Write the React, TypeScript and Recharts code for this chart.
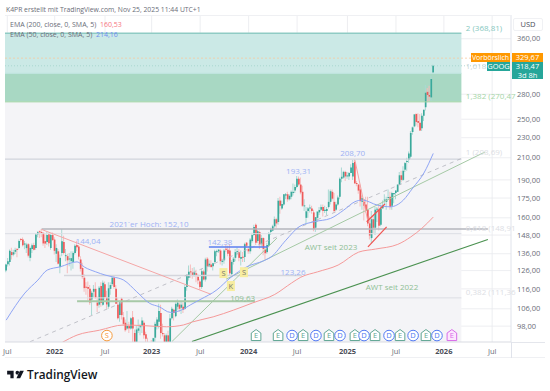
import {
  Bar,
  CartesianGrid,
  Cell,
  ComposedChart,
  Line,
  ReferenceArea,
  ReferenceDot,
  ReferenceLine,
  XAxis,
  YAxis,
} from 'recharts';

// Weekly GOOG candles, week 0 = Jul 5 2021
const opens = [
  126, 129.7, 131, 137, 135.5, 137.2, 138.8, 139.5, 144.8, 145,
  141.8, 139.5, 142, 133.5, 139, 141.5, 139.5, 148.5, 150.5, 149.5,
  149.5, 144, 143.5, 148.5, 139.5, 148, 145, 136, 137.5, 128,
  136.5, 143.5, 134.5, 134.5, 132.5, 131.5, 131, 136.5, 141.5, 140.5,
  132.5, 127.5, 122, 117, 117, 116, 110.5, 114.5, 116, 109,
  108, 117.5, 108, 118.5, 111.5, 107, 116, 118.5, 122, 116,
  108, 103, 111, 102, 99.5, 97, 98, 97, 102, 95,
  86.5, 96, 97.5, 98, 99.5, 94.5, 91, 90, 89.6, 90,
  93, 98, 100, 104, 95, 94, 90.5, 94, 91, 101.5,
  105.5, 102.5, 107, 108, 106.5, 107, 106, 117, 122, 125.5,
  125, 123, 124.5, 122.5, 120, 117, 125.5, 121, 133, 128.5,
  129.5, 128.5, 131, 137, 137.5, 138, 131, 132, 139, 138.5,
  138, 124, 131, 133.5, 137, 137, 133, 134, 134, 143,
  139, 137.5, 144, 148, 155, 144, 150, 142, 146, 138.5,
  137, 141, 150, 151, 154, 159, 157, 173, 167, 170,
  177, 178, 174, 176, 179, 181, 184, 191, 186, 180,
  168.5, 160, 165, 167, 167, 164, 153, 160, 164, 166,
  168, 165, 165, 168, 172, 180, 172, 166, 170, 176,
  191, 192, 197, 193, 193, 196, 193, 206, 187, 186,
  182, 172, 172, 170, 166, 156, 146, 159, 153, 166,
  166, 155, 167, 173, 172, 175, 176, 169, 178, 179,
  180, 186, 194, 190, 199, 206, 208, 211, 236, 242,
  256, 248, 246, 240, 254, 264, 283, 279, 276, 309,
];
const highs = [
  129.9, 133.4, 138.7, 139.7, 138.5, 139.8, 139.4, 145, 146, 146.3,
  144, 142.9, 142.8, 140.5, 142.5, 143, 149.2, 150.5, 151, 152.1,
  149.8, 148.3, 150, 149.5, 148.8, 149.7, 146.5, 142, 139, 135.5,
  152.1, 147.5, 139, 136, 136.5, 137.5, 137.5, 142, 144, 141.5,
  134.5, 130.5, 124, 119.5, 120, 118, 115, 118, 119.5, 112,
  117.5, 119.5, 120.5, 120, 115, 119.5, 119.5, 123.26, 122.8, 118,
  111.5, 110, 111.5, 104.5, 101, 105, 100, 102, 105, 96.5,
  98, 101, 99, 102, 100.5, 95.5, 93, 91, 92, 93,
  100, 102, 108.5, 108, 99, 95, 94.8, 96, 103.5, 107,
  106, 109, 110.5, 109, 109.5, 109, 118, 124, 129, 129.5,
  127.5, 128, 126.5, 124, 121, 127, 126.5, 133.5, 134, 132,
  132, 130.5, 138.5, 138.5, 139, 139, 133, 139, 142, 141,
  142, 132, 134, 139, 140, 139, 138, 137, 143, 143.5,
  140, 146, 149.5, 155, 156, 151.5, 151, 148, 146.5, 139.5,
  143, 150, 153, 155, 161, 160, 175, 176, 173, 178,
  179, 180, 178, 181, 187, 186, 193.31, 193, 192, 185,
  174, 168, 168, 170, 169, 166, 160, 165, 168, 170,
  170, 169, 168, 182, 182, 182, 179, 172, 177, 192,
  201, 198, 198, 197, 197, 204, 208, 208.7, 189, 186.5,
  186, 177, 174, 176, 176, 161, 165, 162, 168, 168,
  170, 170, 173, 178, 176, 182, 180, 180, 179, 181,
  186, 197, 198, 202, 206, 210, 216, 237, 242, 256,
  257, 257, 256, 257, 261, 292, 288, 291, 304, 320,
];
const lows = [
  125, 128.4, 129, 132.5, 134.5, 135.8, 133.8, 138.8, 143.8, 140.5,
  138.8, 136.5, 133.7, 131.5, 136.5, 138, 138.5, 146.5, 146, 146.5,
  141, 139.5, 141.5, 140.5, 138.5, 144, 135.5, 131, 129.5, 124.5,
  134.5, 135.5, 131.5, 124.5, 128.5, 126, 127, 135.5, 137.5, 132.5,
  125.5, 121.5, 114.5, 113, 110, 108, 103, 111.5, 110.8, 104.5,
  106.5, 107, 107.5, 110.5, 106, 106, 113, 117.5, 116, 108.5,
  101, 100, 101, 98, 95.5, 96.5, 95, 96.5, 91, 83.5,
  85.5, 95, 94, 95, 92.5, 91, 88, 87, 85.5, 88.5,
  90.5, 96.5, 97, 92.5, 93.5, 89.5, 89.5, 90, 90.5, 101,
  100.5, 102, 105.5, 104.5, 103.5, 104, 105.5, 115, 120.5, 122,
  121.5, 122.5, 119.5, 118.5, 115.5, 116, 120.5, 120, 125.5, 128,
  128, 126, 130.5, 134.5, 136.5, 129.5, 129, 130, 137, 134.5,
  123.5, 122.5, 129.5, 131.5, 135, 131.5, 129, 131, 131, 139.5,
  136, 136, 143, 147.5, 141.5, 143, 139, 140, 135, 132.5,
  136, 140, 148, 150.5, 153, 153, 155, 163, 166, 169,
  174, 172, 173, 174, 177, 179, 183, 185, 178, 168,
  165, 155, 160, 164, 163, 150.5, 150, 157, 162, 165,
  161, 163.5, 162, 167, 170, 173, 164, 165, 169, 174,
  188, 191, 189, 191, 190, 196, 190, 187, 184.5, 178.5,
  168.5, 166, 158, 164, 154, 145, 142.6, 149, 148, 157,
  151, 154, 167, 170, 166, 174, 166, 166, 171, 174,
  180, 186, 188, 189, 197, 198, 205, 209, 233, 241,
  243, 241, 237, 237, 248, 260, 270, 271, 272, 307,
];
const closes = [
  129.6, 131.4, 137.8, 135.2, 136.9, 138.4, 138.4, 144, 144.7, 141.4,
  141.9, 141.8, 134.8, 139.6, 141.4, 138.4, 148.3, 149.9, 149.9, 149.4,
  142.5, 142.4, 148, 142.6, 148, 144.7, 137.8, 139.6, 130, 133.5,
  143.9, 136.4, 134.6, 132, 132.6, 133.3, 136.5, 141, 140.1, 134.2,
  127, 122.5, 116.4, 116.6, 116, 109, 114, 116, 111.5, 107.5,
  116.6, 108.9, 119.3, 111.7, 108.1, 116.3, 118, 122, 117, 108.5,
  101.5, 109, 103, 99, 96.2, 98, 97, 101.5, 97, 86.5,
  96.5, 97, 97.5, 100.5, 94, 92.5, 89.8, 88.7, 88, 92.8,
  99, 101, 105, 95, 94.5, 90.3, 94, 91, 101.5, 106,
  104, 108.3, 109, 106, 108, 105.5, 117, 123, 125.4, 125,
  123, 125, 123, 120.5, 117, 125.7, 121, 132.5, 128.5, 130,
  128, 130.3, 137.5, 137, 138.5, 131.5, 131.8, 138, 138.5, 136,
  124.5, 131, 133, 137, 137.5, 133.5, 134, 133.5, 142, 141,
  137.5, 145, 148, 153.5, 143, 150.5, 142, 146, 139, 136.3,
  141.5, 149, 152, 154, 159, 156, 172.9, 169, 170.3, 178,
  178, 174, 176.8, 180, 180, 184, 191, 186, 179.5, 169,
  168.5, 164.8, 167, 167.5, 165, 152, 160.5, 164.5, 165.8, 168,
  165, 166, 166.5, 172, 180.5, 174.5, 165, 170, 175.5, 191,
  192.7, 197, 193, 193, 196, 201, 205, 187, 186.5, 181,
  172.5, 175, 169, 165, 156, 147.7, 159, 153, 166, 166,
  154.4, 167, 169, 173, 174, 175, 168, 179, 179, 181,
  186, 194, 190, 198, 205, 207, 214, 235, 241, 255.5,
  247, 246, 237.5, 254, 261, 281.9, 279, 277, 300, 318.47,
];

// EMA readings every few weeks
const ema50Weeks = [0, 10, 17, 22, 29, 38, 42, 48, 53, 57, 63, 70, 77, 82, 88, 94, 99, 104, 113, 120, 129, 138, 142, 150, 157, 165, 174, 181, 187, 191, 199, 206, 213, 218, 224, 229];
const ema50Values = [100.7, 113.8, 120.7, 126.3, 128.2, 131.1, 128, 125.3, 123.5, 122.5, 120.7, 114.5, 108.6, 107, 104.3, 105.4, 108, 110.5, 115.5, 121.8, 128.2, 131.7, 134, 144.6, 153.6, 157.2, 159.6, 165.7, 172.1, 173.4, 169.5, 168.2, 173.4, 183.1, 196, 214.16];
const ema200Weeks = [30, 38, 50, 63, 74, 86, 95, 100, 111, 122, 132, 144, 153, 158, 167, 178, 189, 198, 210, 217, 223, 229];
const ema200Values = [91, 94.1, 96.2, 98.5, 98.2, 97.7, 98.5, 99.9, 102.2, 105.4, 108.8, 113.1, 119.1, 122.3, 125.3, 129.2, 137, 138.9, 141.9, 146.8, 152.7, 160.53];

const priceTicks = [360, 280, 250, 230, 210, 190, 175, 160, 148, 136, 126, 116, 106, 98];
const timeTicks = [0.6, 26, 53, 78, 104, 130, 156, 183, 209, 234.7, 260.6];
const timeLabels = ['Jul', '2022', 'Jul', '2023', 'Jul', '2024', 'Jul', '2025', 'Jul', '2026', 'Jul'];

const earningsWeeks = [134, 145.8, 159.2, 173.1, 187, 197.8, 211.2, 225.1];
const dividendWeeks = [153.3, 166.1, 179, 191.9, 205.3, 218.2, 231];
const nextEarningsWeek = 239;
const splitWeek = 54;

const fibEndWeek = 244.1;

const candles = opens.map((open, i) => ({
  week: i,
  wick: [lows[i], highs[i]],
  body: [Math.min(open, closes[i]), Math.max(open, closes[i])],
  up: closes[i] >= open,
}));
const ema50 = ema50Weeks.map((week, i) => ({ week, value: ema50Values[i] }));
const ema200 = ema200Weeks.map((week, i) => ({ week, value: ema200Values[i] }));

const WEEK_DOMAIN: [number, number] = [-0.64, 270.7];
const PRICE_DOMAIN: [number, number] = [91.2, 400.8];
const FONT = '"Open Sans", Inter, sans-serif';

const UP = '#3aa99b';
const DOWN = '#ef5a5a';
const UP_WICK = '#a9d9d3';
const DOWN_WICK = '#f6bcbc';
const BLUE_TEXT = '#9db2f5';
const GREEN_TEXT = '#8fbf94';

function TimeTick({ x, y, index }: any) {
  const label = timeLabels[index];
  const isYear = label !== 'Jul';
  return (
    <text x={x} y={y + 4} textAnchor="middle" fontSize={7.5} fontFamily={FONT} fontWeight={isYear ? 700 : 400} fill={isYear ? '#4a4d57' : '#6a6d78'}>
      {label}
    </text>
  );
}

function Note({ viewBox, text, fill, anchor = 'middle' }: any) {
  return (
    <text x={viewBox.x} y={viewBox.y} dy={3} textAnchor={anchor} fontSize={8} fontFamily={FONT} fill={fill}>
      {text}
    </text>
  );
}

function note(week: number, price: number, text: string, fill: string, anchor = 'middle') {
  return (
    <ReferenceDot
      key={text}
      x={week}
      y={price}
      r={0}
      stroke="none"
      fill="none"
      label={<Note text={text} fill={fill} anchor={anchor} />}
    />
  );
}

function EventIcon({ cx, cy, letter, color, round, fill = '#fff' }: any) {
  return (
    <g>
      {round ? (
        <circle cx={cx} cy={cy} r={5.3} fill={fill} stroke={color} strokeWidth={1} />
      ) : (
        <path
          d={`M${cx} ${cy - 6}L${cx + 4.8} ${cy - 2.5}V${cy + 5}H${cx - 4.8}V${cy - 2.5}Z`}
          fill={fill}
          stroke={color}
          strokeWidth={1}
        />
      )}
      <text x={cx} y={cy + 2.8} textAnchor="middle" fontSize={7.5} fontFamily={FONT} fill={color}>
        {letter}
      </text>
    </g>
  );
}

function SignTag({ cx, cy, letter }: any) {
  return (
    <g>
      <rect x={cx - 4} y={cy - 5} width={8} height={10} fill="#f7eda0" />
      <text x={cx} y={cy + 2.8} textAnchor="middle" fontSize={7.5} fontFamily={FONT} fill="#7a7a70">
        {letter}
      </text>
    </g>
  );
}

function segment(a: [number, number], b: [number, number], stroke: string, strokeWidth = 1, dash?: string) {
  return (
    <ReferenceLine
      key={`${a}-${b}`}
      segment={[{ x: a[0], y: a[1] }, { x: b[0], y: b[1] }]}
      stroke={stroke}
      strokeWidth={strokeWidth}
      strokeDasharray={dash}
      ifOverflow="hidden"
    />
  );
}

const tagBase: React.CSSProperties = {
  position: 'absolute',
  color: '#fff',
  fontFamily: FONT,
  fontSize: 7.5,
  lineHeight: '9px',
  textAlign: 'center',
  whiteSpace: 'nowrap',
};

export default function App() {
  return (
    <div style={{ position: 'absolute', left: 0, top: 0, width: 550, height: 391, background: '#fff', overflow: 'hidden' }}>
      <div style={{ position: 'absolute', left: 6, top: 5, fontFamily: FONT, fontSize: 6.8, color: '#6a6d78', whiteSpace: 'nowrap' }}>
        K4PR erstellt mit TradingView.com, Nov 25, 2025 11:44 UTC+1
      </div>
      <ComposedChart
        width={550}
        height={391}
        data={candles}
        margin={{ top: 15, right: 0, bottom: 33, left: 5 }}
      >
        <XAxis
          dataKey="week"
          type="number"
          domain={WEEK_DOMAIN}
          ticks={timeTicks}
          interval={0}
          allowDataOverflow
          height={16}
          tick={<TimeTick />}
          tickLine={false}
          axisLine={{ stroke: '#d9dbe2' }}
        />
        <XAxis xAxisId="wick" dataKey="week" type="number" domain={WEEK_DOMAIN} allowDataOverflow hide />
        <XAxis xAxisId="body" dataKey="week" type="number" domain={WEEK_DOMAIN} allowDataOverflow hide />
        <YAxis
          orientation="right"
          scale="log"
          domain={PRICE_DOMAIN}
          ticks={priceTicks}
          interval={0}
          allowDataOverflow
          width={39}
          tickSize={0}
          tickMargin={6}
          tickFormatter={(v: number) => `${v},00`}
          tick={{ fontSize: 7.5, fontFamily: FONT, fill: '#6a6d78' }}
          axisLine={{ stroke: '#e0e3eb' }}
        />
        <ReferenceArea x1={-0.64} x2={fibEndWeek} y1={91.2} y2={270.47} fill="#f4f4f7" fillOpacity={1} stroke="none" />
        <ReferenceArea x1={-0.64} x2={fibEndWeek} y1={270.47} y2={307.8} fill="#a8d8c3" fillOpacity={1} stroke="none" />
        <ReferenceArea x1={-0.64} x2={fibEndWeek} y1={307.8} y2={368.81} fill="#cbe9e6" fillOpacity={1} stroke="none" />
        <CartesianGrid stroke="#e9eaee" strokeOpacity={0.8} syncWithTicks />

        {segment([-0.64, 368.81], [fibEndWeek, 368.81], '#8fcbc4', 1.5)}
        {segment([-0.64, 307.8], [fibEndWeek, 307.8], '#bfe4df', 1)}
        {segment([-0.64, 270.47], [fibEndWeek, 270.47], '#a5d6a7', 1)}
        {segment([-0.64, 208.69], [fibEndWeek, 208.69], '#d1d4dc', 1.2)}
        {segment([-0.64, 148.91], [fibEndWeek, 148.91], '#dcdee4', 1)}
        {segment([-0.64, 111.36], [fibEndWeek, 111.36], '#dcdee4', 1)}

        {segment([-0.64, 329.67], [270.7, 329.67], '#f7c9a0', 0.8, '2 2')}
        {segment([-0.64, 318.47], [270.7, 318.47], '#9fd0ca', 0.8, '1 2')}

        {segment([19, 152.1], [258.3, 152.1], '#b5b6bd', 1.5)}
        {segment([31, 123.26], [158.6, 123.26], '#d4d5dc', 1.5)}
        {segment([38, 109.63], [133.4, 109.63], '#a7c9a7', 2)}
        {segment([12.8, 91.3], [244.2, 209.4], '#b2b4bc', 0.8, '4 4')}
        {segment([19, 151.8], [109.8, 113.2], '#f4a6a6', 1)}
        {segment([88.9, 91.4], [145.2, 146], '#a5c9a5', 1)}
        {segment([117.9, 121.2], [256.7, 215.5], '#a5c9a5', 1)}
        {segment([99.6, 91.4], [258.3, 145.1], '#4a9150', 1.1)}

        <Bar xAxisId="wick" dataKey="wick" barSize={1} isAnimationActive={false}>
          {candles.map((c) => (
            <Cell key={c.week} fill={c.up ? UP_WICK : DOWN_WICK} />
          ))}
        </Bar>
        <Bar xAxisId="body" dataKey="body" barSize={2} minPointSize={1} isAnimationActive={false}>
          {candles.map((c) => (
            <Cell key={c.week} fill={c.up ? UP : DOWN} />
          ))}
        </Bar>

        <Line data={ema50} dataKey="value" type="monotone" stroke="#8fa5f5" strokeWidth={1} dot={false} activeDot={false} isAnimationActive={false} />
        <Line data={ema200} dataKey="value" type="monotone" stroke="#f49a9a" strokeWidth={1} dot={false} activeDot={false} isAnimationActive={false} />

        {segment([187, 207.8], [194, 157.2], '#f4a6a6', 1)}
        {segment([194, 140.3], [204, 153.6], '#ef5350', 1.2)}
        {segment([193.3, 157.2], [203.1, 170.3], '#ef5350', 1.2)}
        {segment([108.7, 140.2], [140.4, 140.2], '#5b7ff0', 1.5)}

        {note(76.6, 155.7, '2021´er Hoch: 152,10', BLUE_TEXT)}
        {note(43.9, 144, '144,04', BLUE_TEXT)}
        {note(114.6, 143.6, '142,38', BLUE_TEXT)}
        {note(156.8, 197.7, '193,31', BLUE_TEXT)}
        {note(185.8, 214.2, '208,70', BLUE_TEXT)}
        {note(153.8, 125.1, '123,26', BLUE_TEXT)}
        {note(126.8, 111.1, '109,63', GREEN_TEXT)}
        {note(174.2, 140.1, 'AWT seit 2023', GREEN_TEXT)}
        {note(206.9, 116.8, 'AWT seit 2022', GREEN_TEXT)}
        {note(246.5, 378.7, '2 (368,81)', '#86c8c0', 'start')}
        {note(246.5, 318.1, '1,618', '#c9d6d6', 'start')}
        {note(246.5, 277.7, '1,382 (270,47', '#a5d6a7', 'start')}
        {note(246.5, 215.5, '1 (208,69)', '#dcdee4', 'start')}
        {note(246.5, 152.7, '0,618 (148,91', '#dcdee4', 'start')}
        {note(246.5, 114.3, '0,382 (111,36', '#dcdee4', 'start')}

        <ReferenceDot x={116.5} y={124.6} r={0} shape={(p: any) => <SignTag {...p} letter="S" />} />
        <ReferenceDot x={120.5} y={117.5} r={0} shape={(p: any) => <SignTag {...p} letter="K" />} />
        <ReferenceDot x={127.5} y={125.1} r={0} shape={(p: any) => <SignTag {...p} letter="S" />} />

        <ReferenceDot x={splitWeek} y={93.9} r={0} shape={(p: any) => <EventIcon {...p} letter="S" color="#f59a3c" round />} />
        {earningsWeeks.map((week) => (
          <ReferenceDot key={week} x={week} y={93.9} r={0} shape={(p: any) => <EventIcon {...p} letter="E" color="#5fa592" />} />
        ))}
        {dividendWeeks.map((week) => (
          <ReferenceDot key={week} x={week} y={93.9} r={0} shape={(p: any) => <EventIcon {...p} letter="D" color="#5078f2" round />} />
        ))}
        <ReferenceDot x={nextEarningsWeek} y={93.9} r={0} shape={(p: any) => <EventIcon {...p} letter="E" color="#d86be8" fill="#fbe6fd" />} />
      </ComposedChart>

      {/* frame */}
      <div style={{ position: 'absolute', left: 5, top: 15, width: 506, height: 1, background: '#eff0f3' }} />
      <div style={{ position: 'absolute', left: 5, top: 357, width: 540, height: 1, background: '#eff0f3' }} />
      <div style={{ position: 'absolute', left: 511, top: 342, width: 34, height: 1, background: '#e4e6ec' }} />
      <div style={{ position: 'absolute', left: 511, top: 342, width: 1, height: 16, background: '#e0e3eb' }} />

      {/* legend */}
      <div style={{ position: 'absolute', left: 10, top: 20, fontFamily: FONT, fontSize: 7, lineHeight: '9.5px', color: '#6a6d78', whiteSpace: 'nowrap' }}>
        <div>EMA (200, close, 0, SMA, 5)&nbsp; <span style={{ color: '#f7767f' }}>160,53</span></div>
        <div>EMA (50, close, 0, SMA, 5)&nbsp; <span style={{ color: '#6d8cf0' }}>214,16</span></div>
      </div>

      {/* price tags */}
      <div style={{ position: 'absolute', left: 513, top: 18, width: 30, height: 13, border: '1px solid #f0f1f4', borderRadius: 2, boxSizing: 'border-box', fontFamily: FONT, fontSize: 7.5, lineHeight: '11px', textAlign: 'center', color: '#4a4d57' }}>USD</div>
      <div style={{ ...tagBase, left: 471, top: 52.5, width: 39, height: 9, background: '#ff9800', fontSize: 7 }}>Vorbörslich</div>
      <div style={{ ...tagBase, left: 512, top: 52.5, width: 31, height: 9, background: '#ff9800' }}>329,67</div>
      <div style={{ ...tagBase, left: 487, top: 62, width: 23, height: 9, background: '#26a69a' }}>GOOG</div>
      <div style={{ ...tagBase, left: 512, top: 62, width: 31, height: 17, background: '#26a69a' }}>318,47<br />3d 8h</div>

      {/* logo */}
      <svg style={{ position: 'absolute', left: 7, top: 368 }} width={17} height={13} viewBox="0 0 36 28">
        <path d="M14 6H0v8h7v8h7V6Zm14 16h-8l7.5-16H36l-8 16Zm-6-8a4 4 0 1 0 0-8 4 4 0 0 0 0 8Z" fill="#131722" />
      </svg>
      <div style={{ position: 'absolute', left: 27, top: 366, fontFamily: FONT, fontSize: 11.8, fontWeight: 600, color: '#131722' }}>TradingView</div>
    </div>
  );
}
